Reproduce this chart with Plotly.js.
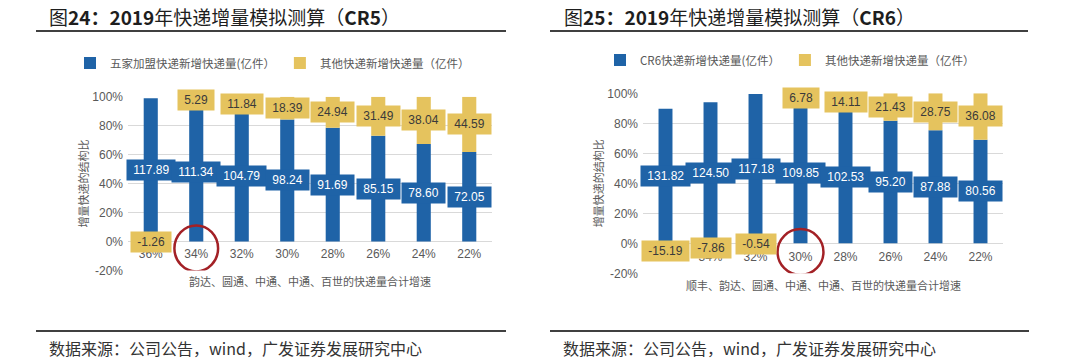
<!DOCTYPE html>
<html>
<head>
<meta charset="utf-8">
<script src="https://cdn.plot.ly/plotly-3.0.1.min.js"></script>
<style>html,body{margin:0;padding:0;background:#fff;}#chart{width:1080px;height:362px;}</style>
</head>
<body>
<div id="chart"></div>
<script>
// ---- data ----
const categories = ['36%', '34%', '32%', '30%', '28%', '26%', '24%', '22%'];
const cr5Main  = [117.89, 111.34, 104.79, 98.24, 91.69, 85.15, 78.60, 72.05];
const cr5Other = [-1.26, 5.29, 11.84, 18.39, 24.94, 31.49, 38.04, 44.59];
const cr6Main  = [131.82, 124.50, 117.18, 109.85, 102.53, 95.20, 87.88, 80.56];
const cr6Other = [-15.19, -7.86, -0.54, 6.78, 14.11, 21.43, 28.75, 36.08];
const yTickVals = [-20, 0, 20, 40, 60, 80, 100];
const yTickText = ['-20%', '0%', '20%', '40%', '60%', '80%', '100%'];
const cr5Highlight = '34%';
const cr6Highlight = '30%';
const cr5XTitle = '韵达、圆通、中通、中通、百世的快递量合计增速';
const cr6XTitle = '顺丰、韵达、圆通、中通、中通、百世的快递量合计增速';

// ---- styling ----
const W = 1080, H = 362;
const px = p => p / W;
const py = p => 1 - p / H;
const BLUE = '#1F63A7';
const YELLOW = '#E5C35E';
const GRID = '#D9D9D9';
const GRAYTXT = '#595959';
const NUMFONT = 'Liberation Sans, Arial, sans-serif';
const CJK = 'Noto Sans CJK SC, sans-serif';

// share of each series in the (absolute) total, as in a 100% stacked column
function shares(main, other) {
  const m = [], o = [];
  main.forEach((v, i) => {
    const t = Math.abs(v) + Math.abs(other[i]);
    m.push(v / t * 100);
    o.push(other[i] / t * 100);
  });
  return {m, o};
}
const s5 = shares(cr5Main, cr5Other);
const s6 = shares(cr6Main, cr6Other);

function barTrace(y, raw, color, name, xa, ya, leg) {
  return {
    type: 'bar', x: categories, y: y, name: name, xaxis: xa, yaxis: ya,
    legend: leg, marker: {color: color, line: {width: 0}},
    customdata: raw, hoverinfo: 'skip', textposition: 'none'
  };
}

const data = [
  barTrace(s5.m, cr5Main, BLUE, '五家加盟快递新增快递量(亿件）', 'x', 'y', 'legend'),
  barTrace(s5.o, cr5Other, YELLOW, '其他快递新增快递量（亿件）', 'x', 'y', 'legend'),
  barTrace(s6.m, cr6Main, BLUE, 'CR6快递新增快递量(亿件）', 'x2', 'y2', 'legend2'),
  barTrace(s6.o, cr6Other, YELLOW, '其他快递新增快递量（亿件）', 'x2', 'y2', 'legend2')
];

// data labels (boxes filled with series colour), centred on each segment
const pad = s => '&nbsp;' + s + '&nbsp;';
function labels(s, main, other, xref, yref) {
  const out = [];
  categories.forEach((c, i) => {
    out.push({
      xref: xref, yref: yref, x: c, y: s.m[i] / 2, text: pad(main[i].toFixed(2)),
      showarrow: false, bgcolor: BLUE, borderpad: 3, height: 14,
      font: {family: NUMFONT, size: 12, color: '#FFFFFF'}
    });
    const yc = s.o[i] >= 0 ? s.m[i] + s.o[i] / 2 : s.o[i] / 2;
    out.push({
      xref: xref, yref: yref, x: c, y: yc, text: pad(other[i].toFixed(2)),
      showarrow: false, bgcolor: YELLOW, borderpad: 3, height: 14,
      font: {family: NUMFONT, size: 12, color: '#3A3A3A'}
    });
  });
  return out;
}

const annotations = [
  {xref: 'paper', yref: 'paper', x: px(47), y: py(16), xanchor: 'left', yanchor: 'middle', showarrow: false,
   text: '图<b>24：2019</b>年快递增量模拟测算（<b>CR5</b>）', font: {family: CJK, size: 19, color: '#1E1E1E'}},
  {xref: 'paper', yref: 'paper', x: px(562), y: py(16), xanchor: 'left', yanchor: 'middle', showarrow: false,
   text: '图<b>25：2019</b>年快递增量模拟测算（<b>CR6</b>）', font: {family: CJK, size: 19, color: '#1E1E1E'}},
  {xref: 'paper', yref: 'paper', x: px(47), y: py(348), xanchor: 'left', yanchor: 'middle', showarrow: false,
   text: '数据来源：公司公告，wind，广发证券发展研究中心', font: {family: CJK, size: 16, color: '#333333'}},
  {xref: 'paper', yref: 'paper', x: px(561), y: py(348), xanchor: 'left', yanchor: 'middle', showarrow: false,
   text: '数据来源：公司公告，wind，广发证券发展研究中心', font: {family: CJK, size: 16, color: '#333333'}},
  // x-axis titles
  {xref: 'x domain', yref: 'paper', x: 0.5, y: py(281), xanchor: 'center', yanchor: 'middle', showarrow: false,
   text: cr5XTitle, font: {family: CJK, size: 11, color: GRAYTXT}},
  {xref: 'x2 domain', yref: 'paper', x: 0.5, y: py(285), xanchor: 'center', yanchor: 'middle', showarrow: false,
   text: cr6XTitle, font: {family: CJK, size: 11, color: GRAYTXT}}
].concat(labels(s5, cr5Main, cr5Other, 'x', 'y'), labels(s6, cr6Main, cr6Other, 'x2', 'y2'));

const hi5 = categories.indexOf(cr5Highlight);
const hi6 = categories.indexOf(cr6Highlight);
const shapes = [
  {type: 'line', xref: 'paper', yref: 'paper', x0: px(36), x1: px(506), y0: py(31), y1: py(31), line: {color: '#000', width: 1.5}},
  {type: 'line', xref: 'paper', yref: 'paper', x0: px(550), x1: px(1028), y0: py(31), y1: py(31), line: {color: '#000', width: 1.5}},
  {type: 'line', xref: 'paper', yref: 'paper', x0: px(36), x1: px(506), y0: py(331), y1: py(331), line: {color: '#000', width: 1.5}},
  {type: 'line', xref: 'paper', yref: 'paper', x0: px(550), x1: px(1029), y0: py(331), y1: py(331), line: {color: '#000', width: 1.5}},
  {type: 'circle', xref: 'x', yref: 'y', x0: hi5 - 0.48, x1: hi5 + 0.48, y0: -20.7, y1: 11.1, line: {color: '#A32126', width: 2.5}},
  {type: 'circle', xref: 'x2', yref: 'y2', x0: hi6 - 0.51, x1: hi6 + 0.51, y0: -21.1, y1: 9.5, line: {color: '#A32126', width: 2.5}}
];

function xAxis(domain, anchor) {
  return {
    domain: domain, anchor: anchor, type: 'category', range: [-0.5, 7.5],
    showgrid: false, zeroline: false, showline: false, ticks: '',
    ticklabelstandoff: -25, fixedrange: true,
    tickfont: {family: NUMFONT, size: 12, color: GRAYTXT}
  };
}
function yAxis(domain, anchor) {
  return {
    domain: domain, anchor: anchor, range: [-20, 100], tickvals: yTickVals, ticktext: yTickText,
    showgrid: true, gridcolor: GRID, gridwidth: 1, zeroline: false, showline: false, ticks: '',
    ticklabelstandoff: 4, fixedrange: true,
    tickfont: {family: NUMFONT, size: 12, color: GRAYTXT},
    title: {text: '增量快递的结构比', standoff: 1, font: {family: CJK, size: 11, color: GRAYTXT}}
  };
}

const legendStyle = {
  orientation: 'h', xanchor: 'left', yanchor: 'middle', bgcolor: 'rgba(0,0,0,0)',
  font: {family: CJK, size: 11.5, color: GRAYTXT}, traceorder: 'normal'
};

const layout = {
  width: W, height: H, margin: {l: 0, r: 0, t: 0, b: 0},
  paper_bgcolor: '#FFFFFF', plot_bgcolor: '#FFFFFF',
  barmode: 'relative', bargap: 0.69, showlegend: true,
  xaxis: xAxis([px(128), px(492)], 'y'),
  yaxis: yAxis([py(270.4), py(96.7)], 'x'),
  xaxis2: xAxis([px(643), px(1003)], 'y2'),
  yaxis2: yAxis([py(273.3), py(93.3)], 'x2'),
  legend: Object.assign({x: px(70), y: py(63)}, legendStyle),
  legend2: Object.assign({x: px(600), y: py(60)}, legendStyle),
  annotations: annotations,
  shapes: shapes
};

Plotly.newPlot('chart', data, layout, {staticPlot: true, displayModeBar: false});
</script>
</body>
</html>
